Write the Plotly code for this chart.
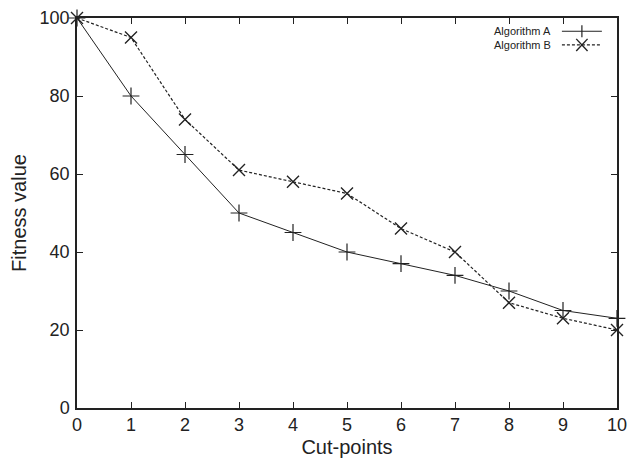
import plotly.graph_objects as go

cut_points = [0, 1, 2, 3, 4, 5, 6, 7, 8, 9, 10]
algorithm_a = [100, 80, 65, 50, 45, 40, 37, 34, 30, 25, 23]
algorithm_b = [100, 95, 74, 61, 58, 55, 46, 40, 27, 23, 20]
series_names = ["Algorithm A", "Algorithm B"]
x_ticks = [0, 1, 2, 3, 4, 5, 6, 7, 8, 9, 10]
y_ticks = [0, 20, 40, 60, 80, 100]

FONT = "Liberation Sans, Arial, Helvetica, sans-serif"
LINE = "#222222"

fig = go.Figure()
fig.add_trace(go.Scatter(
    x=cut_points, y=algorithm_a, mode="lines+markers", name=series_names[0],
    line=dict(color=LINE, width=1),
    marker=dict(symbol="cross-thin", size=12, line=dict(color=LINE, width=1.2)),
    showlegend=False, cliponaxis=False,
))
fig.add_trace(go.Scatter(
    x=cut_points, y=algorithm_b, mode="lines+markers", name=series_names[1],
    line=dict(color=LINE, width=1.2, dash="3px,2px"),
    marker=dict(symbol="x-thin", size=12, line=dict(color=LINE, width=1.4)),
    showlegend=False, cliponaxis=False,
))

# custom legend (text left of sample, as in the reference)
legend_rows = [(0.966, "solid", "cross"), (0.931, "dash", "x")]
x_text = 0.881
x0, x1 = 0.898, 0.972
xm = (x0 + x1) / 2
for (yy, dash, sym), name in zip(legend_rows, series_names):
    fig.add_annotation(x=x_text, y=yy, xref="paper", yref="paper", text=name,
                       showarrow=False, xanchor="right", yanchor="middle",
                       font=dict(family=FONT, size=11, color="#222"))
    fig.add_shape(type="line", xref="paper", yref="paper", x0=x0, x1=x1, y0=yy, y1=yy,
                  line=dict(color=LINE, width=1 if dash == "solid" else 1.2,
                            dash="solid" if dash == "solid" else "3px,2px"))
    dx, dy = 0.0105, 0.0155
    if sym == "cross":
        fig.add_shape(type="line", xref="paper", yref="paper", x0=xm, x1=xm, y0=yy - dy, y1=yy + dy,
                      line=dict(color=LINE, width=1.2))
    else:
        fig.add_shape(type="line", xref="paper", yref="paper", x0=xm - dx, x1=xm + dx, y0=yy - dy, y1=yy + dy,
                      line=dict(color=LINE, width=1.4))
        fig.add_shape(type="line", xref="paper", yref="paper", x0=xm - dx, x1=xm + dx, y0=yy + dy, y1=yy - dy,
                      line=dict(color=LINE, width=1.4))

axis_common = dict(
    showgrid=False, zeroline=False, showline=True, linecolor="#222", linewidth=1.5,
    mirror="ticks", ticks="inside", ticklen=6, tickcolor="#222", tickwidth=1,
    tickfont=dict(family=FONT, size=18, color="#222"), automargin=False,
    ticklabeloverflow="allow",
)
fig.update_xaxes(range=[0, 10], tickvals=x_ticks,
                 title=dict(text="Cut-points", font=dict(family=FONT, size=20, color="#222"), standoff=6),
                 **axis_common)
fig.update_yaxes(range=[0, 100], tickvals=y_ticks, ticklabelstandoff=2,
                 title=dict(text="Fitness value", font=dict(family=FONT, size=20, color="#222"), standoff=8),
                 **axis_common)

fig.update_layout(
    width=627, height=463,
    margin=dict(l=77, r=10, t=18, b=55),
    plot_bgcolor="white", paper_bgcolor="white",
    font=dict(family=FONT),
)
fig.write_html("out.html")
